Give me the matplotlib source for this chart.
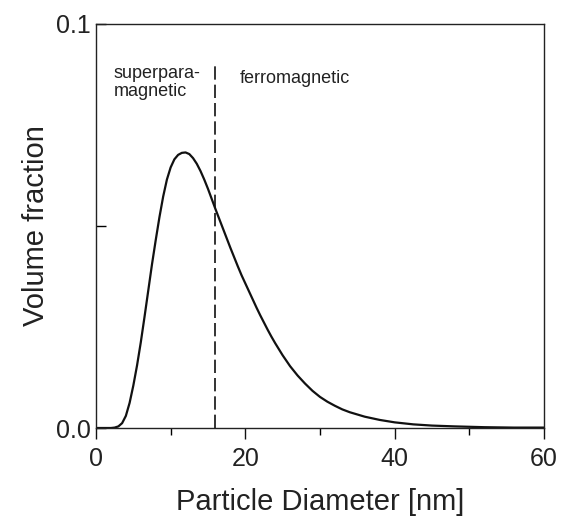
import numpy as np
import matplotlib
matplotlib.use("Agg")
import matplotlib.pyplot as plt
from matplotlib.ticker import MultipleLocator

plt.rcParams['font.family'] = ['Liberation Sans', 'DejaVu Sans']

# volume-weighted size distribution of the particles
diameter = [0, 2.0, 2.5, 3.0, 3.5, 4.0, 4.5, 5.0, 5.5, 6.0, 6.5, 7.0, 7.5,
            8.0, 8.5, 9.0, 9.5, 10.0, 10.5, 11.0, 11.5, 12.0, 12.5, 13.0,
            13.5, 14.0, 14.5, 15.0, 15.5, 16.0, 16.5, 17.0, 17.5, 18.0,
            18.5, 19.0, 19.5, 20.0, 20.5, 21.0, 21.5, 22.0, 22.5, 23.0,
            23.5, 24.0, 25.0, 26.0, 27.0, 28.0, 29.0, 30.0, 31.0, 32.0,
            33.0, 34.0, 36.0, 38.0, 40.0, 42.5, 45.0, 48.0, 52.0, 56.0, 60.0]
volume_fraction = [0, 0, 0.0001, 0.0004, 0.0012, 0.0030, 0.0062, 0.0105,
                   0.0155, 0.0212, 0.0275, 0.0340, 0.0405, 0.0465, 0.0522,
                   0.0573, 0.0615, 0.0645, 0.0665, 0.0676, 0.0681, 0.0682,
                   0.0678, 0.0668, 0.0654, 0.0636, 0.0615, 0.0592, 0.0567,
                   0.0542, 0.0518, 0.0494, 0.0470, 0.0446, 0.0423, 0.0400,
                   0.0378, 0.0358, 0.0338, 0.0318, 0.0298, 0.0279, 0.0261,
                   0.0243, 0.0226, 0.0210, 0.0180, 0.0153, 0.0130, 0.0110,
                   0.0092, 0.0077, 0.0065, 0.0055, 0.0046, 0.0039, 0.0028,
                   0.0020, 0.0014, 0.0009, 0.0006, 0.0004, 0.0002, 0.0001,
                   0.0001]

# critical diameter between the two regimes
d_crit = 16
d_crit_top = 0.09

fig = plt.figure(figsize=(5.67, 5.21), dpi=100)
ax = fig.add_axes([0.1693, 0.1785, 0.79, 0.7755])

ax.plot(diameter, volume_fraction, color='#111111', lw=1.6)
ax.plot([d_crit, d_crit], [0, d_crit_top], color='#111111', lw=1.2,
        dashes=(8, 3))

ax.text(2.4, 0.0899, "superpara-\nmagnetic", fontsize=13, color='#222222',
        va='top', ha='left', linespacing=1.1)
ax.text(19.2, 0.0866, "ferromagnetic", fontsize=13, color='#222222',
        va='center', ha='left')

ax.set_xlim(0, 60)
ax.set_ylim(0, 0.1)
ax.set_xticks([0, 20, 40, 60])
ax.xaxis.set_minor_locator(MultipleLocator(10))
ax.set_yticks([0, 0.1])
ax.set_yticklabels(["0.0", "0.1"])
ax.yaxis.set_minor_locator(MultipleLocator(0.05))

ax.tick_params(axis='x', which='major', direction='out', length=8,
               width=1.0, labelsize=18, colors='#111111', labelcolor='#222222', pad=6)
ax.tick_params(axis='x', which='minor', direction='out', length=5, width=1.0)
ax.tick_params(axis='y', which='major', direction='in', length=7,
               width=1.0, labelsize=18, labelcolor='#222222', pad=4)
ax.tick_params(axis='y', which='minor', direction='in', length=7, width=1.0)

for sp in ax.spines.values():
    sp.set_linewidth(1.0)
    sp.set_color('#222222')

ax.set_xlabel("Particle Diameter [nm]", fontsize=21, color='#222222', labelpad=12)
ax.set_ylabel("Volume fraction", fontsize=21, color='#222222', labelpad=4)

fig.savefig("out.png", dpi=100)
